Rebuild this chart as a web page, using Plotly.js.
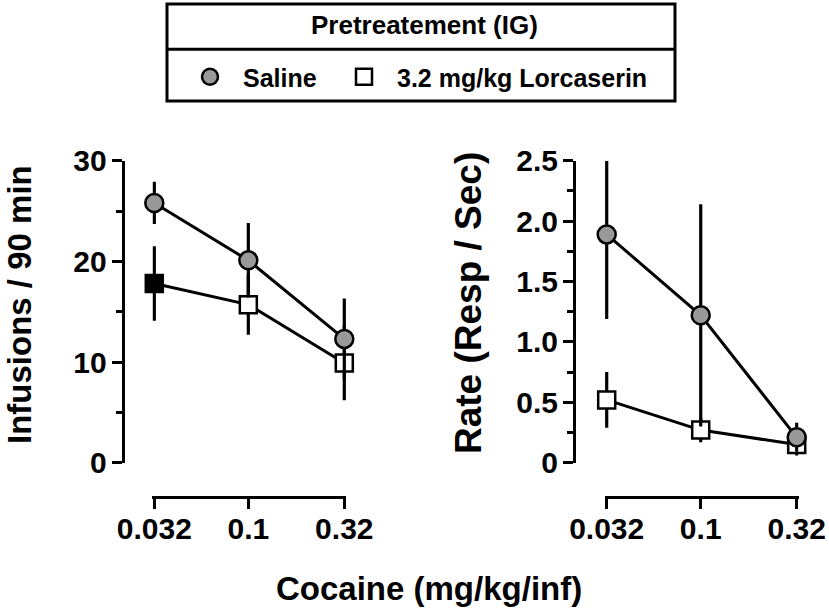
<!DOCTYPE html>
<html>
<head>
<meta charset="utf-8">
<script src="https://cdn.plot.ly/plotly-3.0.1.min.js"></script>
<style>html,body{margin:0;padding:0;background:#fff;}#chart{width:829px;height:612px;}</style>
</head>
<body>
<div id="chart"></div>
<script>
// ---- data ----
const doses = [0.032, 0.1, 0.32];
const doseLabels = ['0.032', '0.1', '0.32'];

const infusionsSaline = [25.8, 20.1, 12.3];
const infusionsSalineErr = [2.1, 3.7, 4.0];
const infusionsLorc = [17.8, 15.7, 9.9];
const infusionsLorcErr = [3.7, 3.0, 3.7];

const rateSaline = [1.89, 1.22, 0.21];
const rateSalineErrPlus = [0.61, 0.92, 0.12];
const rateSalineErrMinus = [0.70, 0.92, 0.12];
const rateLorc = [0.52, 0.27, 0.15];
const rateLorcErr = [0.23, 0.10, 0.09];

const infTickVals = [0, 10, 20, 30];
const infTickText = ['0', '10', '20', '30'];
const infMinorVals = [5, 15, 25];
const rateTickVals = [0, 0.5, 1.0, 1.5, 2.0, 2.5];
const rateTickText = ['0', '0.5', '1.0', '1.5', '2.0', '2.5'];
const rateMinorVals = [0.25, 0.75, 1.25, 1.75, 2.25];

const legendTitle = 'Pretreatement (IG)';
const salineName = 'Saline';
const lorcName = '3.2 mg/kg Lorcaserin';
const xTitle = 'Cocaine (mg/kg/inf)';
const yTitleLeft = 'Infusions / 90 min';
const yTitleRight = 'Rate (Resp / Sec)';

// ---- styles ----
const W = 829, H = 612;
const FONT = 'Liberation Sans, Arial, sans-serif';
const px = v => v / W;
const py = v => 1 - v / H;

const circleMarker = {symbol: 'circle', size: 18, color: '#999999', line: {color: 'black', width: 2.5}};
const lineStyle = {color: 'black', width: 3};
function errY(plus, minus) {
  const e = {type: 'data', array: plus, color: 'black', thickness: 3.2, width: 0, visible: true};
  if (minus) { e.symmetric = false; e.arrayminus = minus; }
  return e;
}
function lineTrace(y, xa, ya) {
  return {x: doses, y: y, xaxis: xa, yaxis: ya, mode: 'lines', line: lineStyle,
          showlegend: false, hoverinfo: 'skip'};
}

const traces = [
  lineTrace(infusionsLorc, 'x', 'y'),
  {x: doses, y: infusionsLorc, xaxis: 'x', yaxis: 'y', mode: 'markers', name: lorcName,
   cliponaxis: false, showlegend: false,
   marker: {symbol: 'square', size: 17, color: ['black', 'white', 'white'], line: {color: 'black', width: 2.5}},
   error_y: errY(infusionsLorcErr)},
  lineTrace(infusionsSaline, 'x', 'y'),
  {x: doses, y: infusionsSaline, xaxis: 'x', yaxis: 'y', mode: 'markers', name: salineName,
   cliponaxis: false, showlegend: false,
   marker: circleMarker, error_y: errY(infusionsSalineErr)},
  lineTrace(rateLorc, 'x2', 'y2'),
  {x: doses, y: rateLorc, xaxis: 'x2', yaxis: 'y2', mode: 'markers', name: lorcName,
   cliponaxis: false, legendrank: 2, legendwidth: 290,
   marker: {symbol: 'square', size: 17, color: 'white', line: {color: 'black', width: 2.5}},
   error_y: errY(rateLorcErr)},
  lineTrace(rateSaline, 'x2', 'y2'),
  {x: doses, y: rateSaline, xaxis: 'x2', yaxis: 'y2', mode: 'markers', name: salineName,
   cliponaxis: false, legendrank: 1, legendwidth: 83,
   marker: circleMarker, error_y: errY(rateSalineErrPlus, rateSalineErrMinus)}
];

const tickFont = {family: FONT, size: 30, color: 'black', weight: 'bold'};
const yDomain = [py(462.7), py(160.7)];
// 190 px per decade; pad the x range by 2 px on each side so edge error bars are not clipped
const PAD_PX = 2, PX_PER_DEC = 190, PAD = PAD_PX / PX_PER_DEC;

function xAxis(x0, x1, pos) {
  return {type: 'log', domain: [px(x0 - PAD_PX), px(x1 + PAD_PX)],
    range: [Math.log10(0.032) - PAD, Math.log10(0.32) + PAD],
    anchor: 'free', position: pos, tickvals: doses, ticktext: doseLabels,
    ticks: 'outside', ticklen: 10, tickwidth: 3, tickcolor: 'black', ticklabelstandoff: -6,
    showline: true, linewidth: 3, linecolor: 'black', showgrid: false, zeroline: false,
    tickfont: tickFont, fixedrange: true};
}
function yAxis(range, vals, text, minorVals, pos) {
  return {domain: yDomain, range: range, anchor: 'free', position: pos,
    tickmode: 'array', tickvals: vals, ticktext: text,
    ticks: 'outside', ticklen: 10, tickwidth: 3, tickcolor: 'black', ticklabelstandoff: -1,
    minor: {tickmode: 'array', tickvals: minorVals, ticks: 'outside', ticklen: 6, tickwidth: 3, tickcolor: 'black', showgrid: false},
    showline: true, linewidth: 3, linecolor: 'black', showgrid: false, zeroline: false,
    tickfont: tickFont, fixedrange: true};
}

const layout = {
  width: W, height: H,
  margin: {l: 0, r: 0, t: 0, b: 0, pad: 0},
  paper_bgcolor: 'white', plot_bgcolor: 'white',
  font: {family: FONT, color: 'black'},
  showlegend: true,
  xaxis: xAxis(154.3, 344.3, py(496.5)),
  yaxis: yAxis([0, 30], infTickVals, infTickText, infMinorVals, px(122.7)),
  xaxis2: xAxis(606.7, 796.7, py(497)),
  yaxis2: yAxis([0, 2.5], rateTickVals, rateTickText, rateMinorVals, px(574)),
  legend: {orientation: 'h', x: px(177), xanchor: 'left', y: py(77), yanchor: 'middle',
    bgcolor: 'rgba(0,0,0,0)', borderwidth: 0, itemwidth: 56,
    font: {family: FONT, size: 25, color: 'black', weight: 'bold'}, itemclick: false, itemdoubleclick: false},
  shapes: [
    {type: 'rect', xref: 'paper', yref: 'paper', x0: px(167), x1: px(675), y0: py(101), y1: py(4),
     line: {color: 'black', width: 3}, fillcolor: 'rgba(0,0,0,0)'},
    {type: 'line', xref: 'paper', yref: 'paper', x0: px(167), x1: px(675), y0: py(49.3), y1: py(49.3),
     line: {color: 'black', width: 3}}
  ],
  annotations: [
    {text: legendTitle, xref: 'paper', yref: 'paper', x: px(424), y: py(25), xanchor: 'center', yanchor: 'middle',
     showarrow: false, font: {family: FONT, size: 26, color: 'black', weight: 'bold'}},
    {text: xTitle, xref: 'paper', yref: 'paper', x: px(429), y: py(588), xanchor: 'center', yanchor: 'middle',
     showarrow: false, font: {family: FONT, size: 33, color: 'black', weight: 'bold'}},
    {text: yTitleLeft, xref: 'paper', yref: 'paper', x: px(19), y: py(305), xanchor: 'center', yanchor: 'middle',
     textangle: -90, showarrow: false, font: {family: FONT, size: 33, color: 'black', weight: 'bold'}},
    {text: yTitleRight, xref: 'paper', yref: 'paper', x: px(468), y: py(303), xanchor: 'center', yanchor: 'middle',
     textangle: -90, showarrow: false, font: {family: FONT, size: 37, color: 'black', weight: 'bold'}}
  ]
};

Plotly.newPlot('chart', traces, layout, {displayModeBar: false, staticPlot: true});
</script>
</body>
</html>
